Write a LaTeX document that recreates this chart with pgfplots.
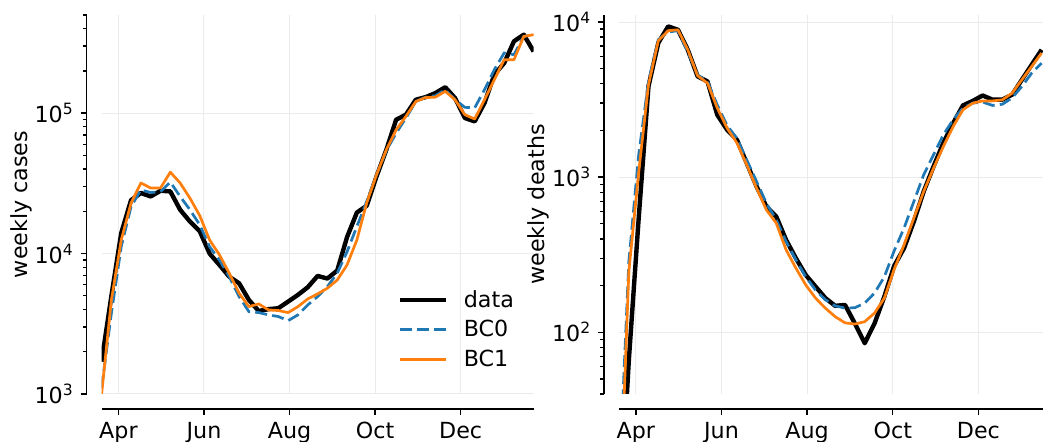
\documentclass[border=0pt]{standalone}
\usepackage{fontspec}
\setmainfont{DejaVu Sans}
\usepackage{pgfplots}
\usepackage{pgfplotstable}
\pgfplotsset{compat=1.18}

\definecolor{tabblue}{HTML}{1F77B4}
\definecolor{taborange}{HTML}{FF7F0E}
\newcommand\fsz{\fontsize{11.1}{13.3}\selectfont}

% weekly series, x = days since 1 April
\pgfplotstableread{
x    data    bczero  bcone
-12  1700    1100    1000
-5   5000    3780    4680
2    14000   11200   12500
9    24000   21600   22900
16   27000   28400   31800
23   25500   27200   29300
30   28000   27600   29300
37   27700   32300   38000
44   20500   25500   31800
51   16900   20500   24800
58   14400   16000   18600
65   10000   11200   12500
72   8300    9000    9800
79   6850    6850    7250
86   6150    4940    5230
93   4680    3860    4190
100  3900    3800    4380
107  4020    3660    3970
114  4080    3560    3930
121  4550    3330    3800
128  5080    3660    4190
135  5760    4310    4750
142  6930    4940    5160
149  6640    5820    5670
156  7570    7250    6480
163  13100   10300   8300
170  19600   15600   12500
177  21900   23500   22900
184  35400   36400   36400
191  54800   54000   54800
198  89800   72100   76000
205  97500   92300   94900
212  124600  121000  121000
219  130000  130000  129000
226  139000  133000  130000
233  153000  147000  143000
240  128000  124600  124600
247  92300   110000  97500
254  87300   109000  90800
261  118000  147000  124600
268  188000  204000  173000
275  227000  268000  240000
282  325000  261000  240000
289  362000  352000  352000
296  275000  362000  362000
}\casetab

\pgfplotstableread{
x    data    bczero  bcone
-12  5       10      5
-5   66      285     246
2    540     1390    1070
9    3850    4140    3940
16   7330    7700    7570
23   9370    8610    8790
30   8910    8800    8910
37   6620    6400    6620
44   4460    4550    4500
51   4140    4140    4040
58   2520    2920    2790
65   2020    2150    2070
72   1740    1780    1660
79   1230    1290    1200
86   870     937     849
93   646     679     615
100  557     531     505
107  394     385     340
114  300     293     259
121  234     228     202
128  197     187     166
135  166     162     143
142  148     148     126
149  150     143     115
156  114     144     113
163  85      154     117
170  114     179     133
177  170     228     166
184  268     335     255
191  348     469     365
198  517     696     544
205  807     1035    807
212  1170    1393    1140
219  1660    1875    1575
226  2230    2345    2120
233  2900    2790    2720
240  3100    3000    3000
247  3360    3050    3100
254  3160    2900    3100
261  3160    2950    3150
268  3400    3240    3480
275  4250    3850    4250
282  5310    4690    5180
289  6620    5430    6310
}\deathtab

\tikzset{
  datastyle/.style={black, line width=2.2pt, line join=round},
  bczerostyle/.style={tabblue, line width=1.35pt, dash pattern=on 6pt off 2.6pt},
  bconestyle/.style={taborange, line width=1.35pt, line join=round},
}

\begin{document}
\begin{tikzpicture}
\begin{axis}[
  name=L,
  scale only axis,
  width=216pt, height=189.5pt,
  ymode=log,
  axis x line*=bottom,
  axis y line*=left,
  axis line shift=7.5pt,
  axis line style={line width=0.65pt, black},
  tick align=outside,
  major tick length=2.9pt,
  minor tick length=1.8pt,
  tick style={line width=0.65pt, black},
  xtick={0,61,122,183,244},
  xticklabels={Apr,Jun,Aug,Oct,Dec},
  grid=major,
  major grid style={line width=0.5pt, color=black!8},
  tick label style={font=\fsz},
  label style={font=\fsz},
  xmin=-12, xmax=296,
  ymin=1000, ymax=5e5,
  ytick={1e3,1e4,1e5},
  yticklabels={10\textsuperscript{3},10\textsuperscript{4},10\textsuperscript{5}},
  minor ytick={2e3,3e3,4e3,5e3,6e3,7e3,8e3,9e3,2e4,3e4,4e4,5e4,6e4,7e4,8e4,9e4,2e5,3e5,4e5,5e5},
  ylabel={weekly cases},
  ylabel style={at={(axis description cs:-0.1865,0.5)}, anchor=center},
  legend style={draw=none, fill=none, font=\fsz, at={(0.670,0.296)}, anchor=north west,
    row sep=1pt, column sep=6pt},
  legend cell align=left,
  legend image code/.code={\draw[#1] (0pt,0pt) -- (23pt,0pt);},
]
\addplot[datastyle] table[x=x, y=data] {\casetab};
\addlegendentry{data}
\addplot[bczerostyle] table[x=x, y=bczero] {\casetab};
\addlegendentry{BC0}
\addplot[bconestyle] table[x=x, y=bcone] {\casetab};
\addlegendentry{BC1}
\end{axis}

\begin{axis}[
  at={(L.south west)}, anchor=south west, xshift=258.7pt,
  scale only axis,
  width=212pt, height=189.5pt,
  ymode=log,
  axis x line*=bottom,
  axis y line*=left,
  axis line shift=7.5pt,
  axis line style={line width=0.65pt, black},
  tick align=outside,
  major tick length=2.9pt,
  minor tick length=1.8pt,
  tick style={line width=0.65pt, black},
  xtick={0,61,122,183,244},
  xticklabels={Apr,Jun,Aug,Oct,Dec},
  grid=major,
  major grid style={line width=0.5pt, color=black!8},
  tick label style={font=\fsz},
  label style={font=\fsz},
  xmin=-12, xmax=290,
  ymin=40, ymax=11100,
  ytick={1e2,1e3,1e4},
  yticklabels={10\textsuperscript{2},10\textsuperscript{3},10\textsuperscript{4}},
  minor ytick={40,50,60,70,80,90,200,300,400,500,600,700,800,900,2000,3000,4000,5000,6000,7000,8000,9000},
  ylabel={weekly deaths},
  ylabel style={at={(axis description cs:-0.19,0.5)}, anchor=center},
]
\addplot[datastyle] table[x=x, y=data] {\deathtab};
\addplot[bczerostyle] table[x=x, y=bczero] {\deathtab};
\addplot[bconestyle] table[x=x, y=bcone] {\deathtab};
\end{axis}

\pgfresetboundingbox
\path ([xshift=-50.8pt,yshift=-24pt]L.south west) rectangle ++(521.5pt,221pt);
\end{tikzpicture}
\end{document}
